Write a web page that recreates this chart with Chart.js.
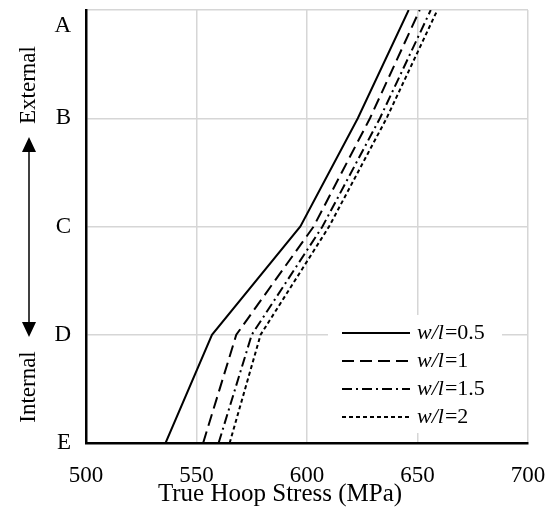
<!DOCTYPE html>
<html>
<head>
<meta charset="utf-8">
<script src="https://cdn.jsdelivr.net/npm/chart.js@4/dist/chart.umd.min.js"></script>
<style>
  html, body { margin: 0; padding: 0; background: #fff; }
  #wrap { width: 555px; height: 508px; }
</style>
</head>
<body>
<div id="wrap"><canvas id="myChart" width="555" height="508"></canvas></div>
<script>
// positions from E (bottom, internal) to A (top, external)
const positions = ['E', 'D', 'C', 'B', 'A'];
const xTicks = [500, 550, 600, 650, 700];

const seriesNames = ['0.5', '1', '1.5', '2'];
const wl05 = [536, 557, 597, 623, 646];
const wl1 = [553, 568, 603, 628.5, 651];
const wl15 = [560, 575, 607, 633, 656];
const wl2 = [565, 579, 610, 636, 659];

const dashes = [[], [12, 6], [10, 4, 2, 4], [4, 3]];
const allValues = [wl05, wl1, wl15, wl2];

const FONT = "'Liberation Serif', 'Times New Roman', serif";

function toPoints(vals) {
    return vals.map((v, i) => ({ x: v, y: i }));
}

const sideNotes = {
    id: 'sideNotes',
    afterDraw(chart) {
        const c = chart.ctx;
        c.save();
        c.fillStyle = '#000';
        c.strokeStyle = '#000';

        // rotated labels
        c.font = '23px ' + FONT;
        c.textAlign = 'center';
        c.textBaseline = 'middle';
        c.save();
        c.translate(29, 85);
        c.rotate(-Math.PI / 2);
        c.fillText('External', 0, 0);
        c.restore();
        c.save();
        c.translate(29, 387);
        c.rotate(-Math.PI / 2);
        c.fillText('Internal', 0, 0);
        c.restore();

        // double arrow
        c.lineWidth = 1.5;
        c.beginPath();
        c.moveTo(29, 150);
        c.lineTo(29, 324);
        c.stroke();
        c.beginPath();
        c.moveTo(29, 137);
        c.lineTo(22, 152);
        c.lineTo(36, 152);
        c.closePath();
        c.fill();
        c.beginPath();
        c.moveTo(29, 337);
        c.lineTo(22, 322);
        c.lineTo(36, 322);
        c.closePath();
        c.fill();

        // x axis title (sits left of centre in the original)
        c.font = '25px ' + FONT;
        c.textAlign = 'center';
        c.textBaseline = 'alphabetic';
        c.fillText('True Hoop Stress (MPa)', 280, 501);

        // legend
        c.fillStyle = '#fff';
        c.fillRect(328, 315, 174, 118);
        c.fillStyle = '#000';
        c.lineWidth = 2;
        c.textAlign = 'left';
        c.textBaseline = 'middle';
        seriesNames.forEach((name, i) => {
            const y = 333 + i * 28;
            c.setLineDash(dashes[i]);
            c.beginPath();
            c.moveTo(342, y);
            c.lineTo(410, y);
            c.stroke();
            c.setLineDash([]);
            c.font = 'italic 22px ' + FONT;
            c.fillText('w/l', 417, y);
            const w = c.measureText('w/l').width;
            c.font = '22px ' + FONT;
            c.fillText('=' + name, 417 + w + 1, y);
        });
        c.restore();
    }
};

const ctx = document.querySelector('#myChart');

const graph = new Chart(ctx, {
    type: 'line',
    data: {
        datasets: allValues.map((vals, i) => ({
            label: 'w/l=' + seriesNames[i],
            data: toPoints(vals),
            borderColor: '#000',
            borderWidth: 2,
            borderDash: dashes[i],
            pointRadius: 0,
            fill: false,
            tension: 0
        }))
    },
    options: {
        responsive: false,
        animation: false,
        layout: { padding: { top: 10, right: 27, left: 0, bottom: 0 } },
        plugins: {
            legend: { display: false },
            tooltip: { enabled: false }
        },
        scales: {
            x: {
                type: 'linear',
                min: 500,
                max: 700,
                afterBuildTicks: (scale) => { scale.ticks = xTicks.map(v => ({ value: v })); },
                afterFit: (scale) => {
                    scale.height = 65;
                    scale.paddingLeft = 0;
                    scale.paddingRight = 0;
                },
                grid: { color: '#d6d6d6', lineWidth: 1.5, drawTicks: false },
                border: { color: '#000', width: 2.5 },
                ticks: { color: '#000', font: { family: FONT, size: 23 }, padding: 19, maxRotation: 0 }
            },
            y: {
                type: 'linear',
                min: 0,
                max: 4,
                afterBuildTicks: (scale) => { scale.ticks = positions.map((p, i) => ({ value: i })); },
                afterFit: (scale) => {
                    scale.width = 86;
                    scale.paddingTop = 0;
                    scale.paddingBottom = 0;
                },
                grid: { color: '#d6d6d6', lineWidth: 1.5, drawTicks: false },
                border: { color: '#000', width: 2.5 },
                ticks: {
                    color: '#000',
                    font: { family: FONT, size: 23, lineHeight: 1.4 },
                    padding: 15,
                    // the top label sits inside the plot, below its grid line
                    callback: (v) => (v === positions.length - 1 ? ['', positions[v]] : positions[v])
                }
            }
        }
    },
    plugins: [sideNotes]
});
</script>
</body>
</html>
